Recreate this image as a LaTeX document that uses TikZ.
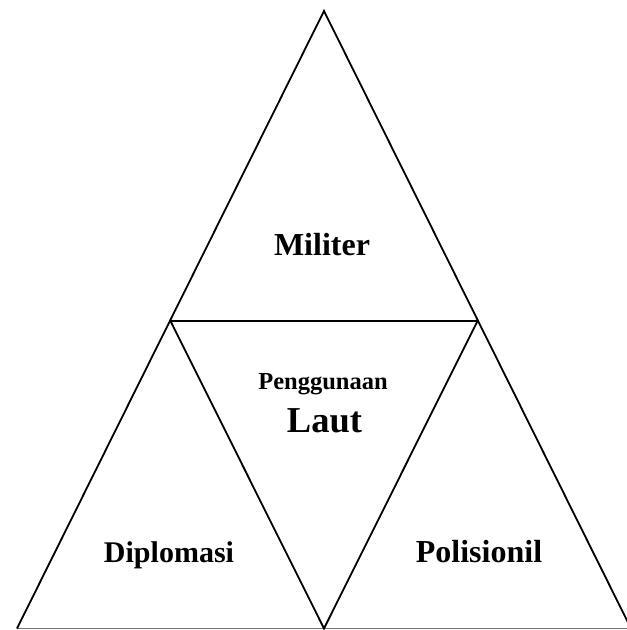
\documentclass[tikz,border=0pt]{standalone}
\usepackage{fontspec}
\setmainfont{Liberation Serif}
\begin{document}
\begin{tikzpicture}[x=1pt,y=-1pt,
  edge/.style={draw=black,line width=1.8pt,line join=miter},
  baseedge/.style={draw=black!55,line width=1.6pt},
  lbl/.style={anchor=base,inner sep=0pt,font=\bfseries}]
\useasboundingbox (0,0) rectangle (627,630);
\clip (0,0) rectangle (627,630);
\coordinate (top) at (324,11);
\coordinate (bl) at (17,628.5);
\coordinate (br) at (631,628.5);
\coordinate (ml) at (170.5,321);
\coordinate (mr) at (477.5,321);
\coordinate (bm) at (324,628.5);
\draw[baseedge] (bl) -- (br);
\draw[edge] (bl) -- (top) -- (br);
\draw[edge] (ml) -- (mr) -- (bm) -- cycle;
\node[lbl,font=\bfseries\fontsize{32}{36}\selectfont] (mil) at (322,255) {Militer};
\node[lbl,font=\bfseries\fontsize{24.5}{28}\selectfont] (pen) at (323,389) {Penggunaan};
\node[lbl,font=\bfseries\fontsize{36.5}{40}\selectfont] (laut) at (324.5,432) {Laut};
\node[lbl,font=\bfseries\fontsize{30}{34}\selectfont] (dip) at (169,562) {Diplomasi};
\node[lbl,font=\bfseries\fontsize{32}{36}\selectfont] (pol) at (479,562) {Polisionil};
\end{tikzpicture}
\end{document}
